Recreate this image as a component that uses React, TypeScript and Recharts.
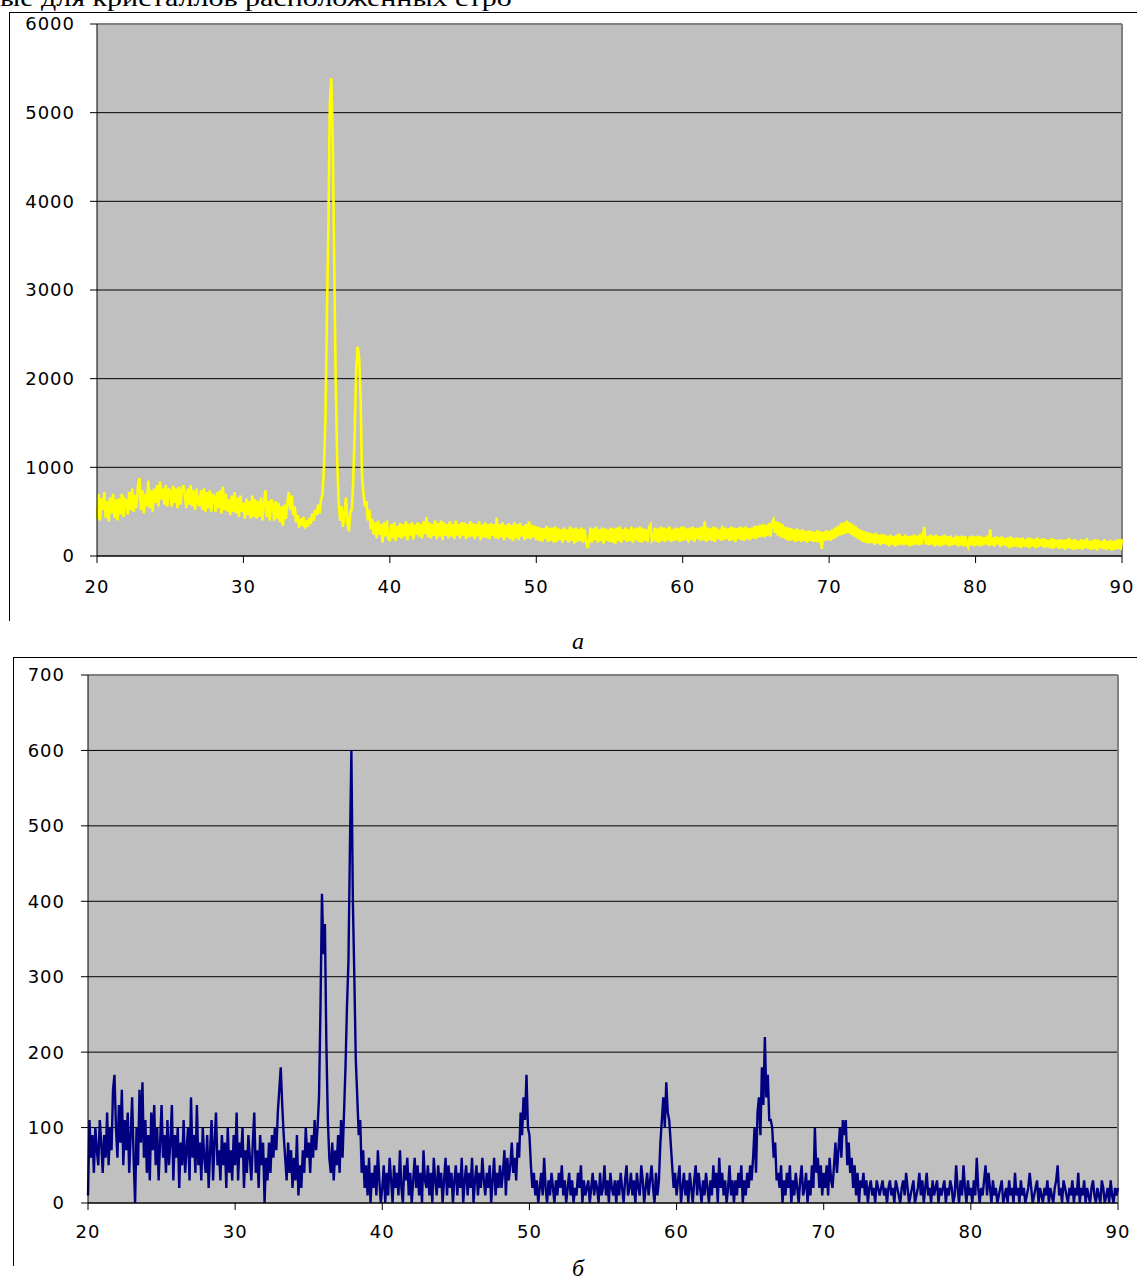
import { LineChart, Line, XAxis, YAxis, CartesianGrid, ReferenceLine } from "recharts";

// 2θ axis, both patterns scanned 20..90 with step 0.1
const angleTicks = [20, 30, 40, 50, 60, 70, 80, 90];
const topTicks = [0, 1000, 2000, 3000, 4000, 5000, 6000];
const bottomTicks = [0, 100, 200, 300, 400, 500, 600, 700];

// pattern "а" (yellow)
const topScan20 = [
  420, 700, 400, 650, 520, 720, 430, 620, 390, 660,
  480, 700, 430, 640, 400, 650, 470, 700, 440, 640,
  620, 470, 720, 520, 760, 500, 690, 540, 800, 880,
  520, 740, 480, 700, 560, 850, 540, 740, 500, 760,
  600, 800, 560, 840, 640, 760, 580, 800, 560, 760,
  720, 560, 790, 600, 760, 540, 780, 580, 740, 800,
  680, 540, 760, 580, 800, 560, 740, 520, 760, 600,
  560, 740, 520, 760, 500, 720, 540, 740, 500, 700,
  660, 500, 720, 540, 740, 480, 780, 520, 700, 500,
  640, 460, 680, 500, 720, 480, 660, 440, 680, 500,
];
const topScan30 = [
  600, 420, 650, 460, 620, 420, 680, 440, 640, 420,
  620, 440, 660, 400, 600, 740, 440, 620, 400, 640,
  580, 400, 620, 420, 600, 380, 560, 340, 580, 420,
  600, 720, 520, 680, 460, 560, 380, 460, 320, 420,
  340, 440, 310, 400, 330, 430, 360, 480, 400, 520,
  460, 580, 480, 640, 690, 1000, 1550, 2700, 3700, 5100,
  5390, 4700, 3300, 2000, 1100, 620, 400, 560, 330, 480,
  660, 380, 280, 500, 520, 850, 1400, 2100, 2360, 2250,
  1800, 900, 700, 560, 620, 400, 520, 300, 420, 240,
  380, 200, 400, 240, 360, 150, 380, 220, 400, 190,
];
const topScan40 = [
  180, 360, 200, 380, 170, 340, 210, 370, 200, 360,
  220, 390, 180, 360, 230, 380, 190, 350, 240, 380,
  220, 360, 200, 390, 250, 440, 210, 380, 200, 360,
  230, 400, 190, 370, 220, 400, 180, 380, 230, 360,
  200, 390, 220, 360, 190, 400, 230, 360, 200, 380,
  230, 380, 190, 360, 210, 390, 220, 370, 190, 360,
  220, 390, 180, 350, 210, 380, 200, 360, 190, 370,
  230, 360, 200, 430, 190, 360, 210, 380, 180, 350,
  210, 370, 190, 350, 170, 380, 200, 360, 180, 370,
  220, 340, 180, 360, 200, 390, 190, 350, 210, 340,
];
const topScan50 = [
  180, 330, 170, 320, 160, 310, 190, 340, 160, 320,
  170, 320, 150, 330, 160, 310, 180, 300, 150, 320,
  180, 300, 150, 330, 170, 310, 140, 320, 160, 300,
  170, 320, 150, 300, 180, 90, 160, 320, 150, 310,
  180, 330, 150, 300, 170, 320, 140, 310, 170, 300,
  160, 320, 150, 310, 140, 320, 170, 330, 150, 300,
  180, 320, 160, 300, 170, 330, 150, 310, 180, 320,
  160, 330, 150, 310, 170, 300, 160, 320, 350, 170,
  190, 320, 160, 310, 150, 330, 170, 320, 160, 310,
  180, 330, 160, 300, 170, 320, 180, 310, 160, 330,
];
const topScan60 = [
  170, 330, 180, 310, 150, 320, 180, 330, 160, 310,
  190, 320, 170, 330, 180, 390, 160, 320, 180, 310,
  170, 330, 160, 320, 190, 300, 170, 340, 180, 320,
  190, 310, 170, 330, 180, 320, 160, 310, 190, 330,
  180, 320, 170, 330, 190, 310, 180, 320, 200, 340,
  190, 340, 210, 350, 220, 360, 210, 350, 230, 370,
  220, 380, 410, 260, 390, 230, 380, 210, 360, 200,
  330, 180, 320, 170, 310, 180, 300, 160, 310, 170,
  290, 160, 300, 170, 280, 150, 290, 170, 280, 160,
  270, 160, 290, 150, 280, 80, 270, 170, 290, 180,
];
const topScan70 = [
  280, 170, 300, 190, 320, 210, 340, 230, 370, 240,
  380, 250, 400, 260, 380, 240, 360, 220, 340, 200,
  310, 180, 290, 160, 280, 150, 270, 140, 260, 150,
  250, 130, 260, 140, 240, 120, 250, 140, 240, 130,
  230, 110, 240, 130, 220, 110, 240, 120, 250, 130,
  220, 120, 240, 130, 220, 110, 230, 120, 240, 130,
  230, 120, 250, 130, 230, 330, 130, 220, 120, 240,
  130, 230, 110, 240, 120, 220, 110, 230, 120, 240,
  130, 220, 110, 230, 120, 210, 130, 230, 110, 220,
  120, 230, 110, 220, 130, 100, 220, 120, 230, 110,
];
const topScan80 = [
  220, 120, 230, 110, 220, 120, 210, 130, 230, 110,
  300, 120, 210, 110, 220, 130, 210, 100, 220, 120,
  200, 110, 210, 90, 220, 100, 200, 110, 210, 100,
  200, 90, 210, 110, 190, 100, 210, 90, 200, 110,
  190, 90, 210, 100, 190, 110, 200, 90, 190, 100,
  180, 90, 200, 80, 190, 100, 180, 80, 190, 90,
  180, 70, 190, 90, 200, 80, 180, 70, 190, 80,
  170, 80, 190, 70, 180, 90, 200, 80, 170, 70,
  180, 80, 190, 60, 180, 90, 170, 80, 190, 70,
  170, 80, 180, 60, 170, 70, 180, 80, 190, 70,
  190,
];

// pattern "б" (navy)
const bottomScan20 = [
  10, 110, 60, 90, 40, 100, 70, 50, 110, 80,
  40, 90, 60, 120, 50, 100, 70, 150, 170, 100,
  60, 130, 80, 150, 50, 110, 70, 120, 40, 90,
  140, 60, 0, 100, 50, 150, 80, 160, 60, 110,
  40, 90, 30, 120, 70, 130, 50, 100, 30, 80,
  130, 60, 90, 40, 110, 50, 80, 130, 30, 90,
  60, 100, 20, 80, 50, 110, 40, 70, 100, 30,
  140, 60, 90, 40, 130, 50, 80, 30, 100, 60,
  40, 90, 20, 70, 110, 30, 80, 120, 50, 70,
  30, 90, 50, 80, 20, 100, 40, 70, 30, 90,
];
const bottomScan30 = [
  50, 120, 30, 80, 60, 100, 20, 70, 40, 90,
  60, 30, 80, 120, 40, 70, 20, 90, 50, 80,
  0, 60, 30, 80, 40, 90, 60, 100, 70, 120,
  150, 180, 130, 90, 60, 30, 80, 40, 70, 20,
  60, 30, 90, 10, 50, 20, 70, 40, 100, 60,
  80, 40, 90, 60, 110, 70, 100, 140, 260, 410,
  330, 370, 210, 110, 60, 40, 80, 30, 70, 50,
  90, 40, 110, 60, 120, 180, 260, 320, 470, 600,
  400, 300, 190, 140, 90, 110, 40, 70, 20, 50,
  10, 60, 0, 40, 20, 50, 10, 70, 30, 0,
];
const bottomScan40 = [
  20, 50, 0, 40, 10, 60, 30, 0, 50, 20,
  40, 10, 70, 20, 0, 50, 30, 60, 10, 40,
  0, 30, 60, 20, 50, 10, 40, 0, 70, 30,
  20, 50, 10, 40, 0, 60, 30, 10, 50, 20,
  40, 0, 30, 60, 10, 50, 20, 40, 0, 30,
  50, 10, 40, 20, 60, 0, 30, 50, 10, 40,
  20, 60, 0, 30, 50, 10, 40, 20, 60, 30,
  10, 40, 20, 50, 0, 30, 60, 10, 40, 20,
  50, 20, 40, 70, 10, 60, 30, 50, 80, 40,
  60, 30, 80, 60, 120, 90, 140, 110, 170, 100,
];
const bottomScan50 = [
  90, 50, 20, 40, 10, 30, 0, 20, 40, 10,
  60, 20, 0, 30, 10, 40, 20, 0, 30, 10,
  40, 20, 50, 10, 30, 0, 20, 40, 10, 30,
  0, 20, 10, 40, 20, 50, 0, 30, 10, 20,
  30, 0, 20, 40, 10, 30, 20, 0, 40, 10,
  20, 50, 10, 30, 0, 40, 20, 10, 30, 0,
  30, 10, 40, 20, 0, 30, 50, 10, 20, 40,
  10, 30, 0, 40, 20, 10, 50, 30, 0, 20,
  40, 10, 30, 50, 20, 0, 40, 10, 30, 80,
  110, 140, 100, 160, 120, 110, 80, 50, 20, 40,
];
const bottomScan60 = [
  10, 30, 50, 0, 20, 40, 10, 30, 0, 40,
  20, 0, 30, 50, 10, 40, 20, 0, 30, 10,
  40, 20, 0, 30, 10, 50, 20, 40, 0, 60,
  20, 40, 10, 30, 0, 20, 50, 10, 30, 0,
  30, 10, 40, 20, 50, 0, 30, 10, 40, 20,
  50, 30, 60, 100, 40, 120, 140, 90, 180, 130,
  220, 140, 170, 110, 110, 100, 60, 80, 30, 40,
  20, 50, 0, 30, 10, 40, 20, 50, 0, 30,
  10, 40, 20, 0, 30, 50, 10, 20, 40, 0,
  30, 10, 50, 20, 100, 40, 60, 20, 50, 10,
];
const bottomScan70 = [
  40, 20, 50, 10, 60, 30, 20, 50, 80, 40,
  70, 100, 60, 110, 90, 110, 50, 80, 40, 60,
  20, 50, 10, 40, 0, 30, 20, 40, 10, 30,
  0, 20, 30, 10, 20, 0, 30, 20, 10, 20,
  30, 10, 20, 0, 20, 30, 10, 20, 0, 30,
  20, 10, 0, 20, 30, 10, 40, 20, 0, 10,
  20, 30, 0, 10, 20, 40, 10, 30, 0, 20,
  40, 10, 20, 0, 30, 10, 20, 30, 0, 20,
  10, 20, 30, 0, 20, 10, 30, 20, 0, 10,
  50, 20, 0, 30, 10, 50, 20, 0, 30, 10,
];
const bottomScan80 = [
  20, 0, 30, 10, 60, 20, 0, 20, 10, 30,
  50, 10, 40, 20, 0, 30, 10, 20, 0, 10,
  20, 30, 0, 10, 20, 0, 30, 10, 20, 0,
  40, 10, 20, 0, 30, 10, 20, 0, 10, 20,
  40, 20, 0, 10, 20, 30, 0, 20, 10, 0,
  20, 10, 30, 0, 20, 10, 0, 20, 30, 50,
  10, 20, 0, 30, 20, 10, 0, 20, 10, 30,
  0, 20, 10, 40, 0, 20, 10, 30, 0, 20,
  10, 0, 20, 30, 10, 0, 20, 10, 0, 30,
  20, 0, 10, 20, 0, 30, 10, 0, 20, 10,
  20,
];

const toRows = (vals: number[]) =>
  vals.map((v, i) => ({ angle: (200 + i) / 10, counts: v }));

const topData = toRows([
  ...topScan20, ...topScan30, ...topScan40, ...topScan50,
  ...topScan60, ...topScan70, ...topScan80,
]);
const bottomData = toRows([
  ...bottomScan20, ...bottomScan30, ...bottomScan40, ...bottomScan50,
  ...bottomScan60, ...bottomScan70, ...bottomScan80,
]);

const tickFont = {
  fill: "#000",
  fontSize: 18,
  fontFamily: "DejaVu Sans",
  letterSpacing: 1,
};

type PlotProps = {
  data: { angle: number; counts: number }[];
  yTicks: number[];
  color: string;
  lineWidth: number;
  margin: { top: number; right: number; bottom: number; left: number };
  yGap: number;
  xGap: number;
};

const Pattern = ({ data, yTicks, color, lineWidth, margin, yGap, xGap }: PlotProps) => {
  const yMax = yTicks[yTicks.length - 1];
  return (
    <LineChart width={1137} height={620} data={data} margin={margin}>
      <CartesianGrid
        vertical={false}
        stroke="#000"
        strokeWidth={1}
        fill="#C0C0C0"
        fillOpacity={1}
      />
      <XAxis
        dataKey="angle"
        type="number"
        domain={[20, 90]}
        ticks={angleTicks}
        height={40}
        tickSize={7}
        tickMargin={xGap}
        axisLine={{ stroke: "#000" }}
        tickLine={{ stroke: "#000" }}
        tick={tickFont}
        interval={0}
      />
      <YAxis
        type="number"
        domain={[0, yMax]}
        ticks={yTicks}
        width={80}
        tickSize={7}
        tickMargin={yGap}
        axisLine={{ stroke: "#000" }}
        tickLine={{ stroke: "#000" }}
        tick={tickFont}
        interval={0}
      />
      <ReferenceLine y={yMax} stroke="#808080" strokeWidth={2} />
      <ReferenceLine x={90} stroke="#808080" strokeWidth={2} />
      <Line
        type="linear"
        dataKey="counts"
        stroke={color}
        strokeWidth={lineWidth}
        dot={false}
        isAnimationActive={false}
      />
    </LineChart>
  );
};

const caption = {
  position: "absolute" as const,
  fontFamily: '"Liberation Serif", serif',
  fontStyle: "italic",
  fontSize: 24,
  lineHeight: "24px",
};

export default function App() {
  return (
    <div
      style={{
        position: "absolute",
        left: 0,
        top: 0,
        width: 1137,
        height: 1282,
        overflow: "hidden",
        background: "#fff",
      }}
    >
      <div
        style={{
          position: "absolute",
          left: 0,
          top: -14,
          fontFamily: '"Liberation Serif", serif',
          fontSize: 24,
          lineHeight: "24px",
          whiteSpace: "nowrap",
          transform: "scaleX(1.25)",
          transformOrigin: "left top",
        }}
      >
        ые для кристаллов расположенных стро
      </div>

      <div
        style={{
          position: "absolute",
          left: 9,
          top: 12,
          width: 1128,
          height: 608,
          borderLeft: "1px solid #000",
          borderTop: "1px solid #000",
        }}
      />
      <div style={{ position: "absolute", left: 0, top: 0 }}>
        <Pattern
          data={topData}
          yTicks={topTicks}
          color="#FFFF00"
          lineWidth={2.6}
          margin={{ top: 24, right: 15, bottom: 24, left: 17 }}
          yGap={15}
          xGap={17}
        />
      </div>
      <div style={{ ...caption, left: 572, top: 629 }}>а</div>

      <div
        style={{
          position: "absolute",
          left: 13,
          top: 657,
          width: 1124,
          height: 608,
          borderLeft: "1px solid #000",
          borderTop: "1px solid #000",
        }}
      />
      <div style={{ position: "absolute", left: 0, top: 650 }}>
        <Pattern
          data={bottomData}
          yTicks={bottomTicks}
          color="#000080"
          lineWidth={2.4}
          margin={{ top: 25, right: 19, bottom: 27, left: 8 }}
          yGap={16}
          xGap={15}
        />
      </div>
      <div style={{ ...caption, left: 572, top: 1256 }}>б</div>
    </div>
  );
}
